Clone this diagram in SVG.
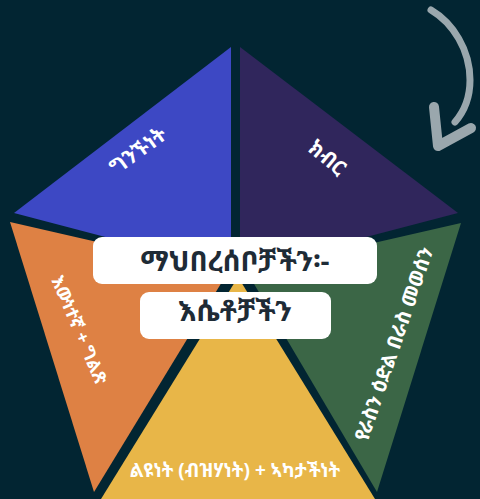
<svg xmlns="http://www.w3.org/2000/svg" width="480" height="499" viewBox="0 0 480 499">
<style>
.lbl{font-family:"Noto Sans Ethiopic","Abyssinica SIL","FreeSerif","DejaVu Sans","Noto Sans",sans-serif;fill:#ffffff;font-weight:bold;text-anchor:middle}
.ttl{font-family:"Noto Sans Ethiopic","Abyssinica SIL","FreeSerif","DejaVu Sans","Noto Sans",sans-serif;fill:#1e2b36;font-weight:bold;text-anchor:middle;font-size:28px}
.box{fill:#ffffff}
.arr{fill:none;stroke:#9aa7ad;stroke-linecap:round;stroke-linejoin:round}
</style>
<rect width="480" height="499" fill="#022532"/>
<g id="blue"><polygon points="231,47 14,213 231,270" fill="#3d48c4"/><text class="lbl" font-size="21" transform="translate(138,151) rotate(-36)" y="7">ግንኙነት</text></g>
<g id="purple"><polygon points="240,47 458,213 240,270" fill="#30265c"/><text class="lbl" font-size="21" transform="translate(327,158) rotate(40)" y="7">ክብር</text></g>
<g id="orange"><polygon points="10,222 94,492 228,272" fill="#de8144"/><text class="lbl" font-size="18" transform="translate(79,330) rotate(67)" y="6">እውነተኛ + ግልጽ</text></g>
<g id="green"><polygon points="461,223 377,492 247,272" fill="#3b6646"/><text class="lbl" font-size="20" transform="translate(394,344) rotate(-71)" y="7">የራስን ዕድል በራስ መወሰን</text></g>
<g id="yellow"><polygon points="238,277 101,499 375,499" fill="#e8b648"/><text class="lbl" font-size="19" x="235" y="477">ልዩነት (ብዝሃነት) + ኣካታችነት</text></g>
<g id="title1"><rect class="box" x="93" y="237" width="284" height="47" rx="9"/><text class="ttl" x="235" y="271">ማህበረሰቦቻችን፡-</text></g>
<g id="title2"><rect class="box" x="140" y="292" width="191" height="47" rx="9"/><text class="ttl" x="235" y="321">እሴቶቻችን</text></g>
<g id="arrow">
<path class="arr" d="M431,10 C453,23 470,50 470,80 C470,100 462,114 455,122" stroke-width="7"/>
<path class="arr" d="M434,107 L438,146 L471,128" stroke-width="10"/>
</g>
</svg>
